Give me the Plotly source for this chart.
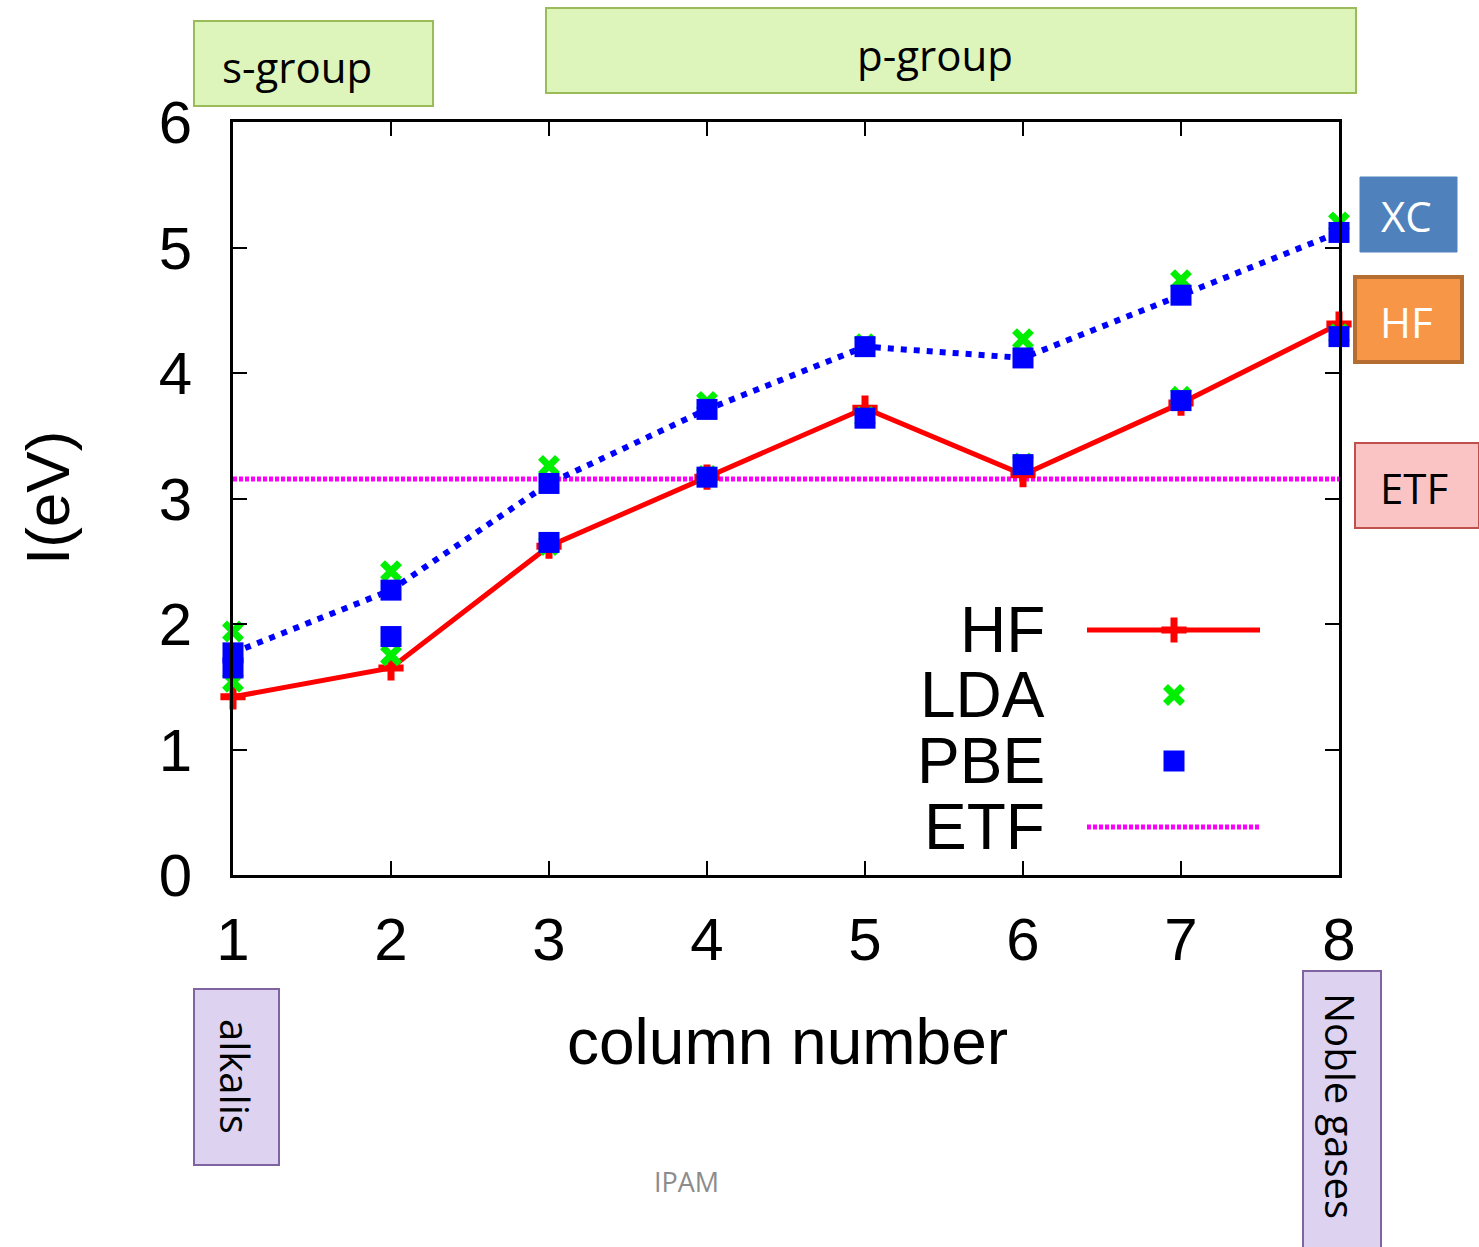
import plotly.graph_objects as go

# ---------------- data ----------------
columns = [1, 2, 3, 4, 5, 6, 7, 8]
hf_values = [1.42, 1.65, 2.62, 3.17, 3.72, 3.19, 3.76, 4.39]
pbe_upper = [1.77, 2.27, 3.12, 3.71, 4.21, 4.12, 4.62, 5.12]
pbe_lower = [1.65, 1.90, 2.65, 3.17, 3.64, 3.27, 3.78, 4.29]
lda_upper = [1.94, 2.42, 3.26, 3.77, 4.23, 4.27, 4.74, 5.20]
lda_lower = [1.54, 1.75, 2.63, 3.18, 3.65, 3.28, 3.81, 4.31]
etf_value = 3.155
x_ticks = [1, 2, 3, 4, 5, 6, 7, 8]
y_ticks = [0, 1, 2, 3, 4, 5, 6]
legend_names = ["HF", "LDA", "PBE", "ETF"]

W, H = 1479, 1247
L, R, T, B = 233, 1339, 122, 875  # plot area in pixels


def px(x):
    return (x - L) / (R - L)


def py(y):
    return (B - y) / (B - T)


RED = "#ff0000"
GREEN = "#00ee00"
BLUE = "#0000ff"
MAG = "#ff00ff"

HF_MARK = dict(symbol="cross-thin", size=18, color=RED, line=dict(color=RED, width=7))
LDA_MARK = dict(symbol="x-thin", size=17, color=GREEN, line=dict(color=GREEN, width=7))
PBE_MARK = dict(symbol="square", size=21, color=BLUE)

fig = go.Figure()

# ETF horizontal line
fig.add_trace(go.Scatter(x=[columns[0], columns[-1]], y=[etf_value, etf_value],
                         mode="lines", line=dict(color=MAG, width=5, dash="4px,2px"),
                         showlegend=False, hoverinfo="skip"))
# XC dotted line through upper PBE points
fig.add_trace(go.Scatter(x=columns, y=pbe_upper, mode="lines",
                         line=dict(color=BLUE, width=6, dash="6px,7px"),
                         showlegend=False, cliponaxis=False))
# HF line
fig.add_trace(go.Scatter(x=columns, y=hf_values, mode="lines+markers",
                         line=dict(color=RED, width=5), marker=HF_MARK,
                         showlegend=False, cliponaxis=False))
# LDA points
fig.add_trace(go.Scatter(x=columns + columns, y=lda_upper + lda_lower, mode="markers",
                         marker=LDA_MARK, showlegend=False, cliponaxis=False))
# PBE points
fig.add_trace(go.Scatter(x=columns + columns, y=pbe_upper + pbe_lower, mode="markers",
                         marker=PBE_MARK, showlegend=False, cliponaxis=False))

# ---------------- manual legend (text left, sample right) ----------------
leg_rows_y = [630, 695, 761, 827]
leg_x0, leg_x1, leg_xm = 1087, 1260, 1174
for name, yy in zip(legend_names, leg_rows_y):
    fig.add_annotation(x=px(1047), y=py(yy), xref="paper", yref="paper",
                       text=name, showarrow=False, xanchor="right", yanchor="middle",
                       font=dict(family="Liberation Sans", size=64, color="black"))

# legend samples on an overlay axis spanning the plot area in fractions
fig.add_trace(go.Scatter(x=[px(leg_x0), px(leg_x1)], y=[py(630)] * 2, mode="lines",
                         line=dict(color=RED, width=5), xaxis="x2", yaxis="y2",
                         showlegend=False, hoverinfo="skip"))
fig.add_trace(go.Scatter(x=[px(leg_xm)], y=[py(630)], mode="markers", marker=HF_MARK,
                         xaxis="x2", yaxis="y2", showlegend=False, hoverinfo="skip"))
fig.add_trace(go.Scatter(x=[px(leg_xm)], y=[py(695)], mode="markers", marker=LDA_MARK,
                         xaxis="x2", yaxis="y2", showlegend=False, hoverinfo="skip"))
fig.add_trace(go.Scatter(x=[px(leg_xm)], y=[py(761)], mode="markers", marker=PBE_MARK,
                         xaxis="x2", yaxis="y2", showlegend=False, hoverinfo="skip"))
fig.add_trace(go.Scatter(x=[px(leg_x0), px(leg_x1)], y=[py(827)] * 2, mode="lines",
                         line=dict(color=MAG, width=5, dash="4px,2px"),
                         xaxis="x2", yaxis="y2", showlegend=False, hoverinfo="skip"))

# ---------------- decorative boxes ----------------
boxes = [
    # x0, y0, x1, y1, fill, border, border width
    (194, 21, 433, 106, "#ddf5bb", "#9bbb59", 2),
    (546, 8, 1356, 93, "#ddf5bb", "#9bbb59", 2),
    (1360, 177, 1457, 252, "#4f81bd", "#4f81bd", 1),
    (1355, 277, 1462, 362, "#f79646", "#b66d31", 4),
    (1355, 443, 1479, 528, "#fbc4c4", "#c0504d", 2),
    (194, 989, 279, 1165, "#ddd3f0", "#8064a2", 2),
    (1303, 971, 1381, 1252, "#ddd3f0", "#8064a2", 2),
]
for x0, y0, x1, y1, fc, lc, lw in boxes:
    fig.add_shape(type="rect", xref="paper", yref="paper",
                  x0=px(x0), x1=px(x1), y0=py(y1), y1=py(y0),
                  fillcolor=fc, line=dict(color=lc, width=lw), layer="below")

box_texts = [
    ("s-group", 297, 66, "black", 0, 42),
    ("p-group", 935, 54, "black", 0, 42),
    ("XC", 1406, 215, "white", 0, 42),
    ("HF", 1406, 321, "white", 0, 42),
    ("ETF", 1414, 487, "black", 0, 42),
    ("alkalis", 236, 1076, "black", 90, 40),
    ("Noble gases", 1341, 1106, "black", 90, 40),
]
for txt, x, y, col, ang, sz in box_texts:
    fig.add_annotation(x=px(x), y=py(y), xref="paper", yref="paper", text=txt,
                       showarrow=False, textangle=ang, xanchor="center", yanchor="middle",
                       font=dict(family="Open Sans", size=sz, color=col))

# axis titles and watermark
fig.add_annotation(x=px(787), y=py(1042), xref="paper", yref="paper",
                   text="column number", showarrow=False,
                   xanchor="center", yanchor="middle",
                   font=dict(family="Liberation Sans", size=64, color="black"))
fig.add_annotation(x=px(47), y=py(498), xref="paper", yref="paper",
                   text="I(eV)", showarrow=False, textangle=-90,
                   xanchor="center", yanchor="middle",
                   font=dict(family="Liberation Sans", size=62, color="black"))
fig.add_annotation(x=px(686), y=py(1181), xref="paper", yref="paper",
                   text="IPAM", showarrow=False,
                   xanchor="center", yanchor="middle",
                   font=dict(family="Open Sans", size=27, color="#8c8c8c"))

axis_common = dict(showline=True, linecolor="black", linewidth=3, mirror="ticks",
                   ticks="inside", ticklen=14, tickwidth=2, tickcolor="black",
                   showgrid=False, zeroline=False,
                   tickfont=dict(family="Liberation Sans", size=60, color="black"))

fig.update_layout(
    width=W, height=H,
    margin=dict(l=L, r=W - R, t=T, b=H - B),
    paper_bgcolor="white", plot_bgcolor="white",
    showlegend=False,
    xaxis=dict(range=[1, 8], tickvals=x_ticks, ticklabelstandoff=10, **axis_common),
    yaxis=dict(range=[0, 6], tickvals=y_ticks, ticklabelstandoff=26, **axis_common),
    xaxis2=dict(range=[0, 1], overlaying="x", visible=False, fixedrange=True),
    yaxis2=dict(range=[0, 1], overlaying="y", visible=False, fixedrange=True),
)

fig.write_html("out.html")
